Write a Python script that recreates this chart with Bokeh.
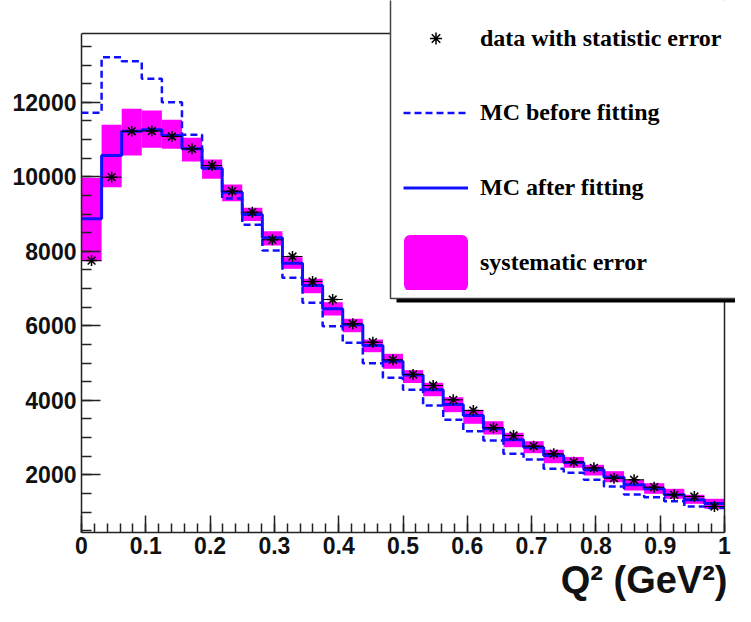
import numpy as np
from bokeh.plotting import figure
from bokeh.models import (FixedTicker, Range1d, Legend, LegendItem, BoxAnnotation, Title, Span)
from bokeh.embed import file_html
from bokeh.resources import INLINE

# ---- data (32 bins in Q^2 from 0 to 1 GeV^2) ----
bin_edges = np.linspace(0.0, 1.0, 33)

data_counts = [7750, 9990, 11224, 11230, 11082, 10751, 10303, 9614, 9050, 8308,
               7860, 7189, 6706, 6054, 5560, 5087, 4693, 4397, 4013, 3726,
               3262, 3055, 2768, 2564, 2340, 2188, 1909, 1866, 1667, 1463,
               1417, 1149]

mc_after = [8872, 10572, 11224, 11262, 11109, 10751, 10230, 9587, 8985, 8362,
            7681, 7082, 6456, 6027, 5471, 5050, 4680, 4282, 3887, 3592,
            3235, 2940, 2741, 2518, 2330, 2134, 1936, 1731, 1624, 1463,
            1329, 1230]

mc_before = [11720, 13210, 13100, 12630, 12003, 11127, 10230, 9420, 8715, 8021,
             7288, 6617, 5990, 5544, 4996, 4604, 4280, 3860, 3476, 3170,
             2921, 2564, 2411, 2161, 2055, 1866, 1686, 1471, 1399, 1291,
             1149, 1108]

syst_low = [7730, 9721, 10572, 10778, 10751, 10411, 9946, 9345, 8815, 8156,
            7530, 6875, 6276, 5828, 5291, 4846, 4465, 4110, 3681, 3369,
            3082, 2741, 2580, 2311, 2190, 1981, 1801, 1579, 1490, 1356,
            1221, 1087]

syst_high = [9973, 11396, 11825, 11780, 11530, 11047, 10464, 9793, 9168, 8540,
             7842, 7262, 6634, 6188, 5632, 5248, 4810, 4470, 4083, 3745,
             3439, 3128, 2902, 2671, 2480, 2268, 2097, 1866, 1775, 1624,
             1463, 1356]

x_ticks = [0, 0.1, 0.2, 0.3, 0.4, 0.5, 0.6, 0.7, 0.8, 0.9, 1]
x_tick_labels = ["0", "0.1", "0.2", "0.3", "0.4", "0.5", "0.6", "0.7", "0.8", "0.9", "1"]
y_ticks = [2000, 4000, 6000, 8000, 10000, 12000]

legend_labels = ["data with statistic error", "MC before fitting",
                 "MC after fitting", "systematic error"]
x_title = "Q\u00b2 (GeV\u00b2)"

# axis extents of the histogram frame
x_lo, x_hi = 0.0, 1.0
y_lo, y_hi = 451, 13850

# ---- derived ----
left = bin_edges[:-1]
right = bin_edges[1:]
centers = 0.5 * (left + right)

W, H = 735, 606
p = figure(width=W, height=H, output_backend="svg", toolbar_location=None,
           x_range=Range1d(x_lo, 1.0171), y_range=Range1d(y_lo, 14733))
p.min_border_left = 81
p.min_border_top = 0
p.min_border_right = 0
p.min_border_bottom = 74
p.background_fill_color = "white"
p.border_fill_color = "white"
p.outline_line_color = None
p.xgrid.visible = False
p.ygrid.visible = False

MAGENTA = "#ff00ff"
BLUE = "#1010ff"
FRAME = "#222222"

# frame top / right edges
p.add_layout(Span(location=y_hi, dimension="width", line_color=FRAME, line_width=1.5))
p.add_layout(Span(location=x_hi, dimension="height", line_color=FRAME, line_width=1.5))

# systematic band
p.quad(left=left, right=right, bottom=syst_low, top=syst_high,
       fill_color=MAGENTA, line_color=None)

# MC before fitting (dashed)
r_before = p.step(x=bin_edges, y=mc_before + [mc_before[-1]], mode="after",
                  line_color=BLUE, line_width=2.5, line_dash="7 4")
# MC after fitting (solid)
r_after = p.step(x=bin_edges, y=mc_after + [mc_after[-1]], mode="after",
                 line_color=BLUE, line_width=3)

# data: horizontal bin-width bars + star markers
p.segment(x0=left, x1=right, y0=data_counts, y1=data_counts,
          line_color="black", line_width=1)
r_data = p.scatter(x=centers, y=data_counts, marker="asterisk", size=11,
                   line_color="black", line_width=1.5)

# legend proxy for the systematic band
r_box = p.quad(left=np.array([np.nan]), right=np.array([np.nan]),
               top=np.array([np.nan]), bottom=np.array([np.nan]),
               fill_color=MAGENTA, line_color=MAGENTA, line_width=12, line_join="round")

# ---- axes ----
xt = FixedTicker(ticks=x_ticks,
                 minor_ticks=[round(i * 0.02, 2) for i in range(51)])
yt = FixedTicker(ticks=y_ticks,
                 minor_ticks=[500 * i for i in range(1, 28)])
p.xaxis.ticker = xt
p.yaxis.ticker = yt
p.xaxis.bounds = (x_lo, x_hi)
p.yaxis.bounds = (y_lo, y_hi)
p.xaxis.major_label_overrides = {float(t): s for t, s in zip(x_ticks, x_tick_labels)}

for ax in (p.xaxis[0], p.yaxis[0]):
    ax.axis_line_color = FRAME
    ax.axis_line_width = 1.5
    ax.major_tick_line_color = FRAME
    ax.minor_tick_line_color = FRAME
    ax.major_tick_line_width = 1.5
    ax.minor_tick_line_width = 1.5
    ax.major_tick_out = 0
    ax.minor_tick_out = 0
    ax.major_label_text_font = "Liberation Sans"
    ax.major_label_text_font_style = "bold"
    ax.major_label_text_font_size = "23px"
    ax.major_label_text_color = "#111111"

p.xaxis.major_label_standoff = 4
p.yaxis.major_label_standoff = 5
p.xaxis.major_tick_in = 17
p.xaxis.minor_tick_in = 9
p.yaxis.major_tick_in = 19
p.yaxis.minor_tick_in = 10

title = Title(text=x_title, align="right", text_font="Liberation Sans",
              text_font_style="bold", text_font_size="38px", text_color="#111111",
              standoff=0, offset=8)
p.add_layout(title, "below")

# ---- legend box with shadow ----
shadow = BoxAnnotation(left=315, right=800, bottom=230, top=300,
                       left_units="screen", right_units="screen",
                       bottom_units="screen", top_units="screen",
                       fill_color="black", fill_alpha=1, line_color=None)
box = BoxAnnotation(left=309, right=800, bottom=234, top=700,
                    left_units="screen", right_units="screen",
                    bottom_units="screen", top_units="screen",
                    fill_color="white", fill_alpha=1,
                    line_color="#444444", line_width=1.5, line_alpha=1)
p.add_layout(shadow)
p.add_layout(box)

common = dict(glyph_width=65, label_standoff=12, margin=0, padding=0,
              label_text_font="Liberation Serif", label_text_font_style="bold",
              label_text_font_size="24px", label_text_color="black",
              border_line_alpha=0, background_fill_alpha=0)

legend_a = Legend(items=[LegendItem(label=legend_labels[0], renderers=[r_data])],
                  location=(322, 479), glyph_height=30, **common)
legend_b = Legend(items=[LegendItem(label=legend_labels[1], renderers=[r_before]),
                         LegendItem(label=legend_labels[2], renderers=[r_after]),
                         LegendItem(label=legend_labels[3], renderers=[r_box])],
                  location=(322, 242), glyph_height=55, spacing=20, **common)
p.add_layout(legend_a)
p.add_layout(legend_b)

open("out.html", "w").write(file_html(p, INLINE))
